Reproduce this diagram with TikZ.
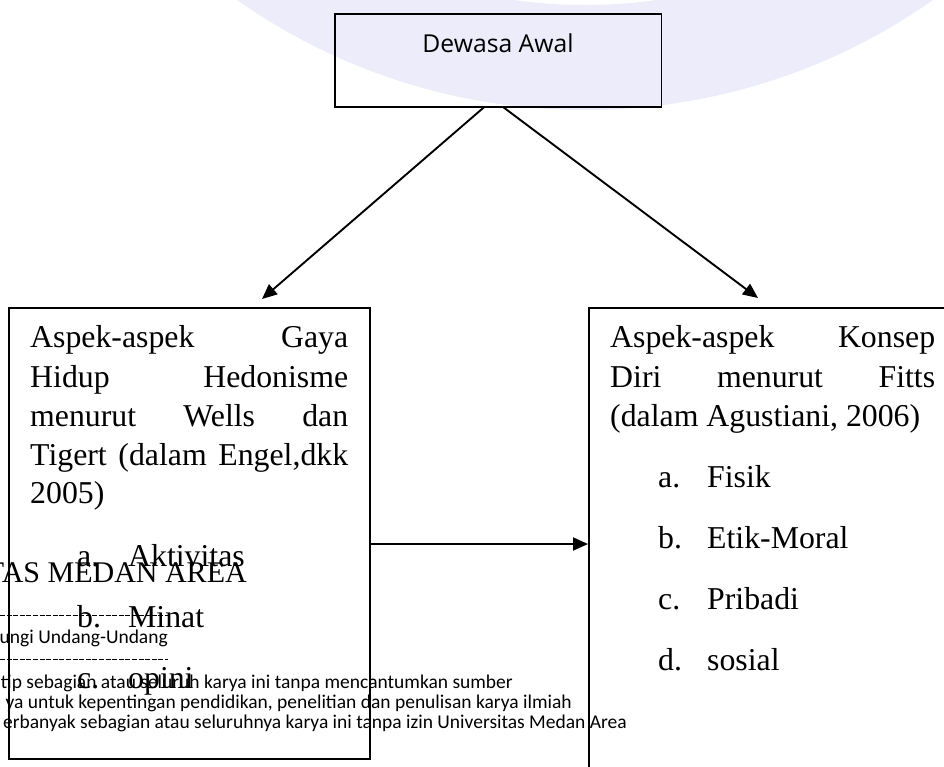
\documentclass[tikz,border=0pt]{standalone}
\usepackage{fontspec}
\setmainfont{Liberation Serif}
\newfontfamily\dsans{Open Sans}
\newfontfamily\carl{Carlito}
\usetikzlibrary{arrows.meta,calc}
\definecolor{wm}{RGB}{236,236,250}
\hbadness=10000
\begin{document}
\begin{tikzpicture}[x=1pt,y=-1pt,
  box/.style={draw, line width=2pt, inner sep=0pt, anchor=north west},
  arr/.style={line width=1.9pt, -{Triangle[length=15pt,width=13pt]}},
  body/.style={font=\fontsize{31.8}{39.2}\selectfont, inner sep=0pt, anchor=base west},
  foot/.style={font=\carl\fontsize{19.5}{22}\selectfont, inner sep=0pt, anchor=base east},
  over/.style={font=\fontsize{30}{36}\selectfont, inner sep=0pt, anchor=base east}]
\useasboundingbox (0,0) rectangle (944,766);
\clip (0,0) rectangle (944,766);
% faint watermark ring
\fill[wm, even odd rule] (585,-495) circle[radius=605] (585,-495) circle[radius=500];

% boxes
\node[box, line width=1.5pt, minimum width=326.7pt, minimum height=93pt] (top) at (334,13) {};
\node[font=\dsans\fontsize{24.7}{30}\selectfont, inner sep=0pt, anchor=base] (toptxt) at (498,52) {Dewasa Awal};
\node[box, minimum width=361pt, minimum height=451pt] (lb) at (8,307) {};
\node[box, minimum width=420pt, minimum height=500pt] (rb) at (588,307) {};

% connectors
\draw[arr] ($(top.south)+(-14.4,0)$) -- ($(lb.north west)+(254,-8)$);
\draw[arr] ($(top.south)+(5.6,0)$) -- ($(rb.north west)+(170,-9)$);
\draw[arr] ($(lb.north east)+(0,237)$) -- ($(rb.north west)+(0,237)$);

% left box text
\node[body] (l1) at (30,347) {\hbox to 318pt{Aspek-aspek Gaya}};
\node[body] (l2) at (30,387) {\hbox to 318pt{Hidup Hedonisme}};
\node[body] (l3) at (30,426) {\hbox to 318pt{menurut Wells dan}};
\node[body] (l4) at (30,465) {\hbox to 318pt{Tigert (dalam Engel,dkk}};
\node[body] (l5) at (30,503) {2005)};
\node[body] (la) at (77,566) {a.};
\node[body] (lat) at (128,566) {Aktivitas};
\node[body] (lbb) at (77,627) {b.};
\node[body] (lbt) at (128,627) {Minat};
\node[body] (lc) at (77,688) {c.};
\node[body] (lct) at (128,688) {opini};

% right box text
\node[body] (r1) at (610,347) {\hbox to 325pt{Aspek-aspek Konsep}};
\node[body] (r2) at (610,387) {\hbox to 325pt{Diri menurut Fitts}};
\node[body] (r3) at (610,426) {(dalam Agustiani, 2006)};
\node[body] (ra) at (658,487) {a.};
\node[body] (rat) at (707,487) {Fisik};
\node[body] (rb2) at (658,548) {b.};
\node[body] (rbt) at (707,548) {Etik-Moral};
\node[body] (rc) at (658,609) {c.};
\node[body] (rct) at (707,609) {Pribadi};
\node[body] (rd) at (658,670) {d.};
\node[body] (rdt) at (707,670) {sosial};

% overlaid footer text
\node[over] (o1) at (247,582) {TAS MEDAN AREA};
\draw[line width=0.9pt, dash pattern=on 5pt off 1.6pt] (0,615) coordinate (d1a) -- (168,615) coordinate (d1b);
\node[foot] (f1) at (168,643) {ungi Undang-Undang};
\draw[line width=0.9pt, dash pattern=on 5pt off 1.6pt] (0,659) coordinate (d2a) -- (168,659) coordinate (d2b);
\node[foot] (f2) at (513,688) {tip sebagian atau seluruh karya ini tanpa mencantumkan sumber};
\node[foot] (f3) at (572,708) {ya untuk kepentingan pendidikan, penelitian dan penulisan karya ilmiah};
\node[foot] (f4) at (627,728) {erbanyak sebagian atau seluruhnya karya ini tanpa izin Universitas Medan Area};
\end{tikzpicture}
\end{document}
